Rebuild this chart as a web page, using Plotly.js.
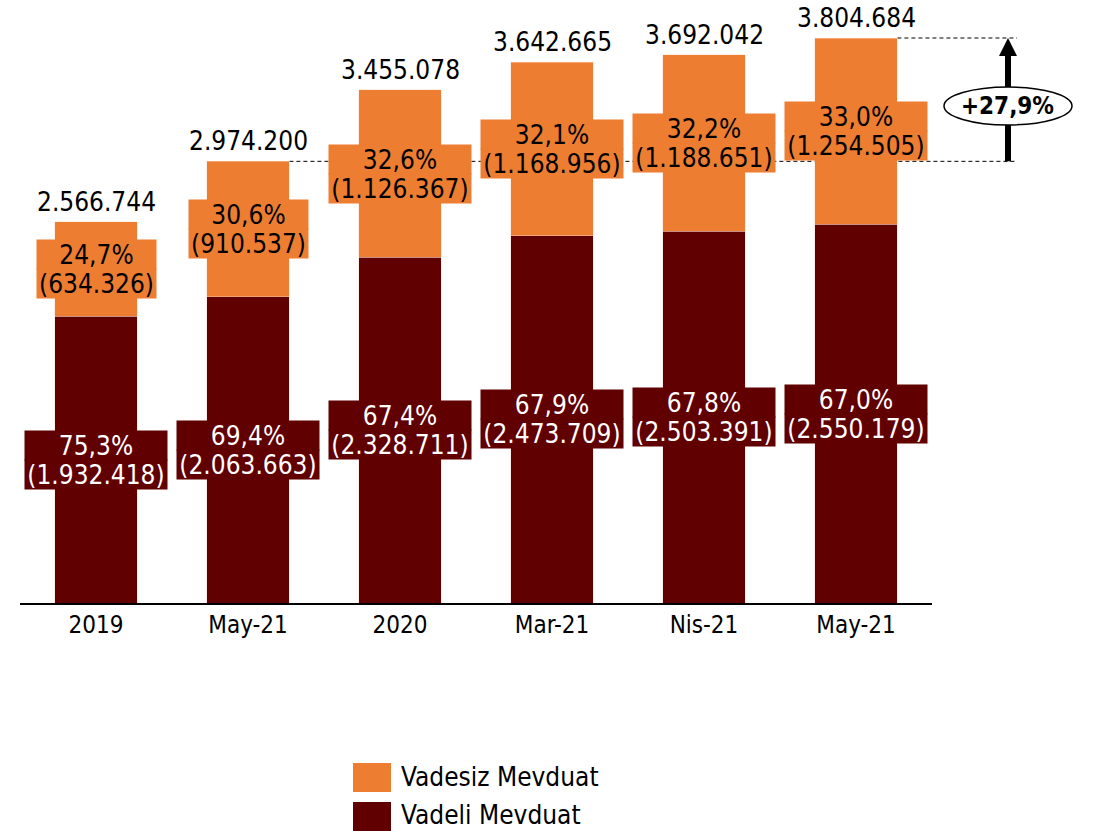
<!DOCTYPE html>
<html><head><meta charset="utf-8">
<script src="https://cdn.plot.ly/plotly-3.0.1.min.js"></script>
<style>html,body{margin:0;padding:0;background:#fff}</style>
</head><body><div id="chart" style="width:1102px;height:831px"></div>
<script>
const categories = ['2019', 'May-21', '2020', 'Mar-21', 'Nis-21', 'May-21'];
const vadeli = [1932418, 2063663, 2328711, 2473709, 2503391, 2550179];
const vadesiz = [634326, 910537, 1126367, 1168956, 1188651, 1254505];
const totals = [2566744, 2974200, 3455078, 3642665, 3692042, 3804684];
const seriesNames = ['Vadesiz Mevduat', 'Vadeli Mevduat'];

const ORANGE = '#ED7D31';
const DARK = '#600000';
const FONT = 'Tahoma, "DejaVu Sans Condensed", Roboto, sans-serif';
const FS = 26;
const YMAX = 4000000;
const BARW = 0.545;

const xs = categories.map((c, i) => i);
const fmtInt = n => String(n).replace(/\B(?=(\d{3})+(?!\d))/g, '.');
const fmtPct = v => (v * 100).toFixed(1).replace('.', ',') + '%';

// text measurement for label box widths
const ctx = document.createElement('canvas').getContext('2d');
ctx.font = FS + 'px ' + FONT;
const textW = s => ctx.measureText(s).width;

// pixel helpers (plot area: x 20..932, y 9..603)
const L = 20, R = 170, T = 9, B = 228, W = 1102, H = 831;
const PW = W - L - R, PH = H - T - B;
const px2paperX = p => (p - L) / PW;
const px2paperY = p => (T + PH - p) / PH;
const dataX2paper = x => (x + 0.5) / categories.length;
const dataY2paper = y => y / YMAX;

const traces = [
  { type: 'bar', name: seriesNames[1], x: xs, y: vadeli, width: BARW,
    marker: { color: DARK, line: { color: 'rgba(255,210,200,0.6)', width: 0.7 } },
    hoverinfo: 'skip', showlegend: false },
  { type: 'bar', name: seriesNames[0], x: xs, y: vadesiz, width: BARW,
    marker: { color: ORANGE, line: { color: 'rgba(255,220,200,0.6)', width: 0.7 } },
    hoverinfo: 'skip', showlegend: false }
];

const annotations = [];
const LINEH = 29;
function boxLabel(x, y, line1, line2, bg, color) {
  const w = Math.ceil(Math.max(textW(line1), textW(line2))) + 4;
  // bottom line first so the top one is drawn over it
  annotations.push({
    x: x, y: y, xref: 'x', yref: 'y', showarrow: false,
    xanchor: 'center', yanchor: 'middle', yshift: -LINEH / 2,
    width: w, height: LINEH, borderpad: 0,
    text: line2, bgcolor: bg, font: { family: FONT, size: FS, color: color }
  });
  annotations.push({
    x: x, y: y, xref: 'x', yref: 'y', showarrow: false,
    xanchor: 'center', yanchor: 'middle', yshift: LINEH / 2,
    width: w, height: LINEH, borderpad: 0,
    text: line1, bgcolor: bg, font: { family: FONT, size: FS, color: color }
  });
}

xs.forEach((x, i) => {
  boxLabel(x, vadeli[i] / 2, fmtPct(vadeli[i] / totals[i]), '(' + fmtInt(vadeli[i]) + ')', DARK, '#ffffff');
  boxLabel(x, vadeli[i] + vadesiz[i] / 2, fmtPct(vadesiz[i] / totals[i]), '(' + fmtInt(vadesiz[i]) + ')', ORANGE, '#000000');
  annotations.push({
    x: x, y: totals[i], xref: 'x', yref: 'y', showarrow: false,
    xanchor: 'center', yanchor: 'bottom', yshift: 3,
    text: fmtInt(totals[i]),
    font: { family: FONT, size: FS, color: '#000000' }
  });
});

const growth = totals[5] / totals[1] - 1;
const arrowX = px2paperX(1008);
annotations.push({
  x: arrowX, y: px2paperY(106), xref: 'paper', yref: 'paper', showarrow: false,
  xanchor: 'center', yanchor: 'middle',
  text: '<b>+' + fmtPct(growth) + '</b>',
  font: { family: FONT, size: 24, color: '#000000' }
});

// legend text
annotations.push({
  x: px2paperX(399), y: px2paperY(777), xref: 'paper', yref: 'paper', showarrow: false,
  xanchor: 'left', yanchor: 'middle', text: seriesNames[0],
  font: { family: FONT, size: FS, color: '#000' }
});
annotations.push({
  x: px2paperX(399), y: px2paperY(815), xref: 'paper', yref: 'paper', showarrow: false,
  xanchor: 'left', yanchor: 'middle', text: seriesNames[1],
  font: { family: FONT, size: FS, color: '#000' }
});

const tipY = dataY2paper(totals[5]);
const baseY = dataY2paper(totals[1]);
const hw = 9 / PW, hh = 18 / PH;
const dashEnd = px2paperX(1017);

const shapes = [
  { type: 'line', xref: 'paper', yref: 'paper', layer: 'below',
    x0: dataX2paper(1 + BARW / 2), x1: dashEnd, y0: baseY, y1: baseY,
    line: { color: '#000', width: 1, dash: '4px,3px' } },
  { type: 'line', xref: 'paper', yref: 'paper', layer: 'below',
    x0: dataX2paper(5 + BARW / 2), x1: dashEnd, y0: tipY, y1: tipY,
    line: { color: '#000', width: 1, dash: '4px,3px' } },
  { type: 'line', xref: 'paper', yref: 'paper', layer: 'above',
    x0: arrowX, x1: arrowX, y0: baseY, y1: tipY - hh + 2 / PH,
    line: { color: '#000', width: 6 } },
  { type: 'path', xref: 'paper', yref: 'paper', layer: 'above',
    path: 'M' + (arrowX - hw) + ',' + (tipY - hh) + 'L' + (arrowX + hw) + ',' + (tipY - hh) + 'L' + arrowX + ',' + tipY + 'Z',
    fillcolor: '#000', line: { color: '#000', width: 0 } },
  { type: 'circle', xref: 'paper', yref: 'paper', layer: 'above',
    x0: px2paperX(944), x1: px2paperX(1072), y0: px2paperY(125), y1: px2paperY(87),
    fillcolor: '#fff', line: { color: '#000', width: 1.5 } },
  { type: 'rect', xref: 'paper', yref: 'paper', layer: 'above',
    x0: px2paperX(353), x1: px2paperX(391), y0: px2paperY(792), y1: px2paperY(763),
    fillcolor: ORANGE, line: { width: 0 } },
  { type: 'rect', xref: 'paper', yref: 'paper', layer: 'above',
    x0: px2paperX(353), x1: px2paperX(391), y0: px2paperY(831), y1: px2paperY(802),
    fillcolor: DARK, line: { width: 0 } }
];

const layout = {
  width: W, height: H,
  margin: { l: L, r: R, t: T, b: B, pad: 0 },
  barmode: 'stack',
  paper_bgcolor: '#fff', plot_bgcolor: '#fff',
  showlegend: false,
  font: { family: FONT, size: 24, color: '#000' },
  xaxis: {
    range: [-0.5, categories.length - 0.5],
    tickvals: xs, ticktext: categories,
    showline: true, linecolor: '#000', linewidth: 1.5,
    showgrid: false, zeroline: false, ticks: '', ticklen: 0,
    tickfont: { family: FONT, size: 24, color: '#000' },
    fixedrange: true
  },
  yaxis: {
    range: [0, YMAX], visible: false, showgrid: false, zeroline: false, fixedrange: true
  },
  annotations: annotations,
  shapes: shapes
};

Plotly.newPlot('chart', traces, layout, { displayModeBar: false, staticPlot: true });
</script>
</body></html>
